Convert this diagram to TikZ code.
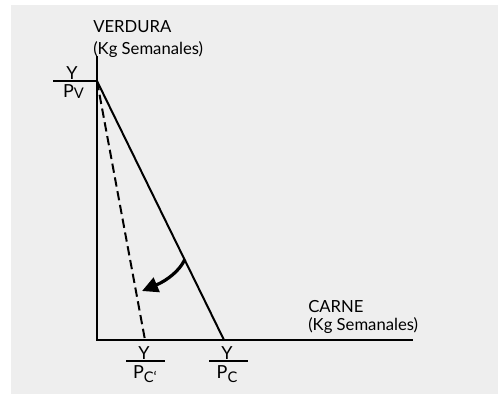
\documentclass[tikz,border=0pt]{standalone}
\usepackage{fontspec}
\setmainfont{Lato}
\usetikzlibrary{arrows.meta,calc}
\definecolor{panel}{HTML}{EEEEEE}
\newcommand{\lowsub}[2]{\raisebox{-#1}{\fontsize{11}{11}\selectfont #2}}

\begin{document}
\begin{tikzpicture}[x=0.75pt,y=-0.75pt,
  axis/.style={line width=2.2pt},
  budget/.style={line width=1.5pt},
  tickline/.style={line width=1.5pt},
  lbl/.style={font=\fontsize{12.5}{14}\selectfont, inner sep=0pt},
  frac/.style={font=\fontsize{13.5}{14}\selectfont, inner sep=0pt},
  rotarrow/.style={-{Triangle[length=12pt,width=11.5pt]}, line width=2.4pt}
]
  \useasboundingbox (0,0) rectangle (498,394);
  \fill[panel] (11,5) rectangle (498,394);

  % Axes
  \coordinate (O) at (97,340);
  \coordinate (top) at (97,56);
  \coordinate (right) at (413,340);
  \draw[axis] (top) -- (O) -- (right);

  % Budget lines
  \coordinate (V) at (97,81);
  \coordinate (C) at (224,340);
  \coordinate (Cp) at (145,340);
  \draw[budget] (V) -- (C);
  \draw[budget, dash pattern=on 7pt off 3.5pt] (V) -- (Cp);

  % Rotation
  \coordinate (from) at ($(V)!0.69!(C)$);
  \coordinate (to) at (142,291);
  \draw[rotarrow] (from) .. controls (180,270) and (168,280) .. (to);

  % Axis titles
  \node[lbl, anchor=base west] (verdura) at (93,32) {VERDURA};
  \node[lbl, anchor=base west] (verdunit) at (93,54) {(Kg Semanales)};
  \node[lbl, anchor=base west] (carne) at (308,312) {CARNE};
  \node[lbl, anchor=base west] (carneunit) at (308,330) {(Kg Semanales)};

  % Intercept Y/Pv
  \coordinate (pvl) at (53,81);
  \draw[tickline] (pvl) -- (V);
  \node[frac, anchor=base] (yv) at (72,79.5) {Y};
  \node[frac, anchor=base] (pv) at (73.5,97.5) {P\lowsub{0.5pt}{V}};

  % Intercept Y/Pc'
  \coordinate (cpl) at (126,361);
  \coordinate (cpr) at (165,361);
  \draw[tickline] (cpl) -- (cpr);
  \node[frac, anchor=base] (ycp) at (144,359.5) {Y};
  \node[frac, anchor=base] (pcp) at (145,378) {P\lowsub{3.5pt}{C‘}};

  % Intercept Y/Pc
  \coordinate (cl) at (209,361);
  \coordinate (cr) at (248,361);
  \draw[tickline] (cl) -- (cr);
  \node[frac, anchor=base] (yc) at (227,359.5) {Y};
  \node[frac, anchor=base] (pc) at (227,378) {P\lowsub{3.5pt}{C}};
\end{tikzpicture}
\end{document}
